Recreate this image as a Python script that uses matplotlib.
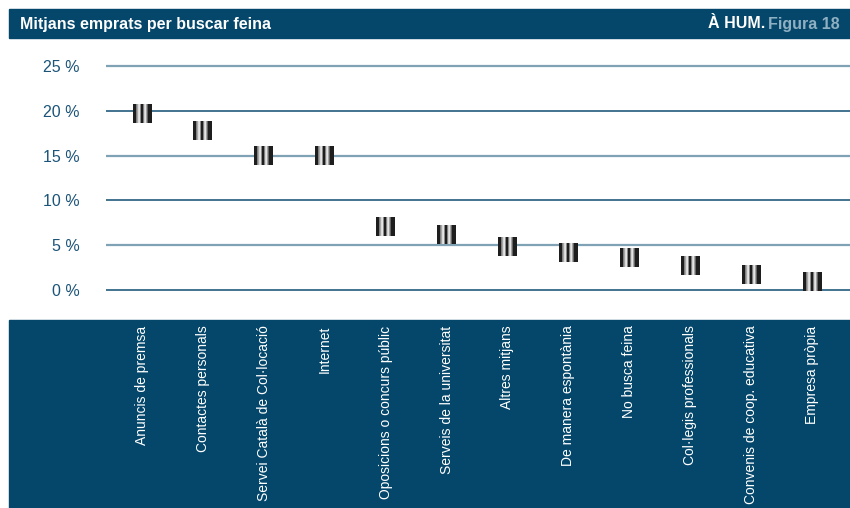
import numpy as np
import matplotlib
matplotlib.use("Agg")
import matplotlib.pyplot as plt
from matplotlib.patches import Rectangle

plt.rcParams["font.family"] = ["Liberation Sans Narrow", "Liberation Sans", "DejaVu Sans"]

categories = [
    "Anuncis de premsa",
    "Contactes personals",
    "Servei Català de Col·locació",
    "Internet",
    "Oposicions o concurs públic",
    "Serveis de la universitat",
    "Altres mitjans",
    "De manera espontània",
    "No busca feina",
    "Col·legis professionals",
    "Convenis de coop. educativa",
    "Empresa pròpia",
]
values = [19.7, 17.8, 15.0, 15.0, 7.1, 6.2, 4.9, 4.2, 3.6, 2.7, 1.7, 1.0]
yticks = [0, 5, 10, 15, 20, 25]
ytick_labels = ["0 %", "5 %", "10 %", "15 %", "20 %", "25 %"]

navy = "#05476b"
dark_grid = "#0f4d73"
light_grid = "#7fa2b4"
tick_color = "#1b5478"

W, H = 850, 508
fig = plt.figure(figsize=(W / 100, H / 100), dpi=100)

# header bar and bottom panel (behind the axes)
fig.patches.append(Rectangle((9 / W, 1 - 38 / H), 1 - 9 / W, 29 / H,
                             transform=fig.transFigure, color=navy, zorder=-5))
fig.patches.append(Rectangle((9 / W, 0), 1 - 9 / W, 1 - 320 / H,
                             transform=fig.transFigure, color=navy, zorder=-5))

fig.text(20 / W, 1 - 24 / H, "Mitjans emprats per buscar feina", color="white",
         fontsize=11.5, fontweight="bold", va="center", ha="left")
fig_lbl = fig.text(840 / W, 1 - 24 / H, "Figura 18", color="#8fb0c2",
                   fontsize=11.5, fontweight="bold", va="center", ha="right")
fig.canvas.draw()
bb = fig_lbl.get_window_extent()
fig.text((bb.x0 - 3) / W, 1 - 24 / H, "À HUM.", color="white",
         fontsize=11.5, fontweight="bold", va="center", ha="right")

ax = fig.add_axes([106 / W, 1 - 320 / H, 1 - 106 / W, (320 - 45) / H])
ax.set_facecolor("none")
for s in ax.spines.values():
    s.set_visible(False)

for yv in yticks:
    dark = (yv // 5) % 2 == 0
    ax.axhline(yv, color=dark_grid if dark else light_grid,
               lw=1.1 if dark else 1.6, zorder=1)

# cylinder-like marker shading
shade = np.array([[0.12, 0.12, 0.12, 0.5, 0.65, 0.85, 0.9, 0.55, 0.12, 0.12,
                   0.5, 0.82, 0.9, 0.65, 0.4, 0.12, 0.12, 0.12, 0.12]])
x = np.arange(len(categories))
mw, mh = 0.31, 2.12
for xi, v in zip(x, values):
    ax.imshow(shade, cmap="gray", vmin=0, vmax=1, aspect="auto",
              interpolation="bilinear",
              extent=(xi - mw / 2, xi + mw / 2, v - mh / 2, v + mh / 2), zorder=3)

px_x = 670 / 11
px_y = 224 / 25
ax.set_xlim(-(142 - 106) / px_x, 11 + (850 - 812) / px_x)
ax.set_ylim(-(320 - 290) / px_y, 25 + (66 - 45) / px_y)

ax.set_xticks(x)
ax.set_xticklabels(categories, rotation=90, color="white", fontsize=10,
                   va="top", ha="center")
ax.set_yticks(yticks)
ax.set_yticklabels(ytick_labels, color=tick_color, fontsize=11.5)
ax.tick_params(axis="x", length=0, pad=4)
ax.tick_params(axis="y", length=0, pad=19)

fig.savefig("out.png", dpi=100)
